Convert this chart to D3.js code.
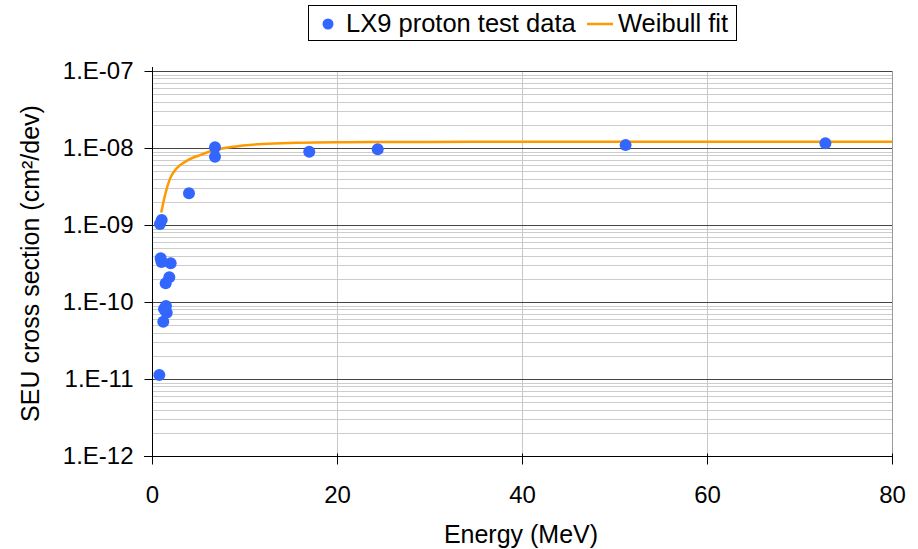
<!DOCTYPE html>
<html>
<head>
<meta charset="utf-8">
<script src="https://cdn.jsdelivr.net/npm/d3@7"></script>
<style>
  html, body { margin: 0; padding: 0; background: #fff; }
  svg { display: block; font-family: "Liberation Sans", Arial, sans-serif; }
</style>
</head>
<body>
<svg id="chart" width="918" height="549"></svg>
<script>
// Measured proton energies (MeV) and SEU cross sections (cm²/dev)
const energy = [0.79, 1.22, 1.59, 1.30, 1.51, 1.48, 1.87, 2.02, 0.94, 1.03, 0.86, 1.05, 4.0, 6.81, 6.81, 17.0, 24.4, 51.2, 72.8];
const crossSection = [1.13e-11, 5.55e-11, 7.27e-11, 8.1e-11, 8.87e-11, 1.75e-10, 2.09e-10, 3.18e-10, 3.69e-10, 3.3e-10, 1.03e-9, 1.16e-9, 2.58e-9, 1.02e-8, 7.7e-9, 8.95e-9, 9.6e-9, 1.09e-8, 1.15e-8];

// Weibull fit curve, sampled
const fitEnergy = [1.0, 1.41, 1.95, 2.67, 3.75, 5.19, 6.81, 8.8, 12, 15.6, 20, 30, 40, 60, 80];
const fitSigma = [1.45e-9, 2.45e-9, 4.0e-9, 5.45e-9, 6.8e-9, 8.1e-9, 9.4e-9, 1.04e-8, 1.13e-8, 1.17e-8, 1.19e-8, 1.2e-8, 1.21e-8, 1.21e-8, 1.21e-8];

// Axis ticks
const xTicks = [0, 20, 40, 60, 80];
const yTicks = [1e-12, 1e-11, 1e-10, 1e-9, 1e-8, 1e-7];
const yTickLabels = ["1.E-12", "1.E-11", "1.E-10", "1.E-09", "1.E-08", "1.E-07"];

const legendLabels = ["LX9 proton test data", "Weibull fit"];

const svg = d3.select("#chart");
const margin = { left: 152, right: 26, top: 71, bottom: 93 };
const W = 918, H = 549;
const x = d3.scaleLinear().domain([0, 80]).range([margin.left, W - margin.right]);
const y = d3.scaleLog().domain([1e-12, 1e-7]).range([H - margin.bottom, margin.top]);

const x0 = x.range()[0], x1 = x.range()[1];
const yB = y.range()[0], yT = y.range()[1];

// minor horizontal gridlines (2..9 within each decade)
const minor = [];
for (let e = -12; e < -7; e++) {
  for (let m = 2; m <= 9; m++) minor.push(m * Math.pow(10, e));
}
svg.append("g").selectAll("line").data(minor).join("line")
  .attr("x1", x0).attr("x2", x1)
  .attr("y1", d => Math.round(y(d)) + 0.5).attr("y2", d => Math.round(y(d)) + 0.5)
  .attr("stroke", "#cccccc").attr("stroke-width", 1);

// vertical gridlines
svg.append("g").selectAll("line").data(xTicks.slice(1)).join("line")
  .attr("x1", d => Math.round(x(d)) + 0.5).attr("x2", d => Math.round(x(d)) + 0.5)
  .attr("y1", yT).attr("y2", yB)
  .attr("stroke", d => d === 80 ? "#999999" : "#c8c8c8").attr("stroke-width", 1);

// major horizontal gridlines
svg.append("g").selectAll("line").data(yTicks.slice(1)).join("line")
  .attr("x1", x0).attr("x2", x1)
  .attr("y1", d => Math.round(y(d)) + 0.5).attr("y2", d => Math.round(y(d)) + 0.5)
  .attr("stroke", "#444444").attr("stroke-width", 1);

// axes
const yAxis = d3.axisLeft(y).tickValues(yTicks).tickFormat((d, i) => yTickLabels[i]).tickSize(8).tickPadding(11);
const gy = svg.append("g").attr("transform", `translate(${x0 + 0.5},0)`).call(yAxis);
gy.select(".domain").attr("stroke", "#000").attr("d", `M0,${yT - 4}V${yB + 4}`);
gy.selectAll(".tick line").attr("stroke", "#000");
gy.selectAll(".tick text").attr("font-size", 24).attr("fill", "#000")
  .attr("font-family", "Liberation Sans, Arial, sans-serif");

const xAxis = d3.axisBottom(x).tickValues(xTicks).tickFormat(d3.format("d")).tickSize(8).tickPadding(21);
const gx = svg.append("g").attr("transform", `translate(0,${yB + 0.5})`).call(xAxis);
gx.select(".domain").attr("stroke", "#000").attr("d", `M${x0 - 8},0H${x1}`);
gx.selectAll(".tick line").attr("stroke", "#000").attr("y1", -3);
gx.selectAll(".tick text").attr("font-size", 24).attr("fill", "#000")
  .attr("font-family", "Liberation Sans, Arial, sans-serif");

// axis titles
svg.append("text").attr("x", (x0 + x1) / 2 - 1).attr("y", 543)
  .attr("text-anchor", "middle").attr("font-size", 25).text("Energy (MeV)");
svg.append("text").attr("transform", `translate(39,${(yT + yB) / 2}) rotate(-90)`)
  .attr("text-anchor", "middle").attr("font-size", 25).text("SEU cross section (cm²/dev)");

// fit curve
const line = d3.line().x(d => x(d[0])).y(d => y(d[1])).curve(d3.curveMonotoneX);
svg.append("path").datum(fitEnergy.map((e, i) => [e, fitSigma[i]]))
  .attr("d", line).attr("fill", "none").attr("stroke", "#FF9900").attr("stroke-width", 2.5);

// data points
svg.append("g").selectAll("circle").data(energy.map((e, i) => [e, crossSection[i]])).join("circle")
  .attr("cx", d => x(d[0])).attr("cy", d => y(d[1])).attr("r", 6)
  .attr("fill", "#3366FF");

// legend
const lg = svg.append("g");
lg.append("rect").attr("x", 308.5).attr("y", 5.5).attr("width", 428).attr("height", 35)
  .attr("fill", "#fff").attr("stroke", "#000").attr("stroke-width", 1);
lg.append("circle").attr("cx", 328).attr("cy", 24).attr("r", 5.5).attr("fill", "#3366FF");
lg.append("text").attr("x", 346).attr("y", 32).attr("font-size", 25.5).text(legendLabels[0]);
lg.append("line").attr("x1", 587).attr("x2", 613).attr("y1", 24).attr("y2", 24)
  .attr("stroke", "#FF9900").attr("stroke-width", 2.5);
lg.append("text").attr("x", 618).attr("y", 32).attr("font-size", 25.5).text(legendLabels[1]);
</script>
</body>
</html>
